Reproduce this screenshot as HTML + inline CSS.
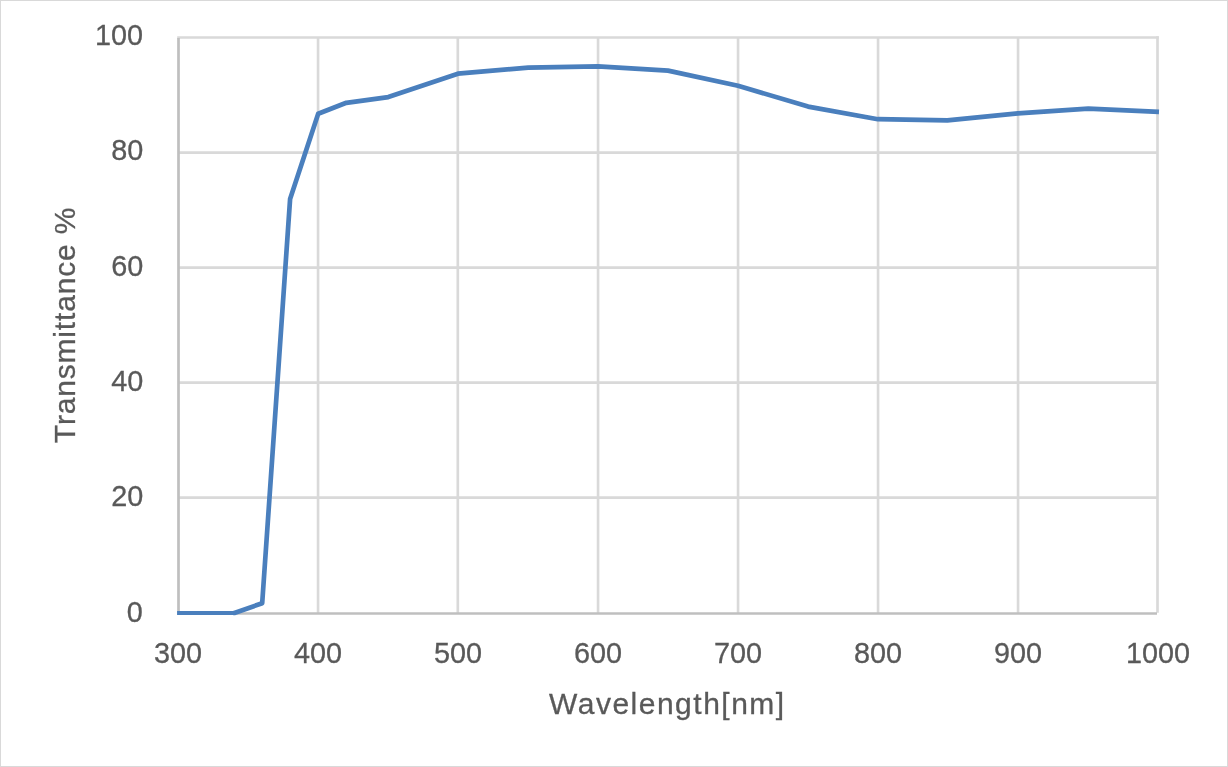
<!DOCTYPE html>
<html><head><meta charset="utf-8">
<style>
html,body{margin:0;padding:0;background:#fff;}
#wrap{position:absolute;left:0;top:0;width:1228px;height:767px;filter:grayscale(100%);}
body{width:1228px;height:767px;position:relative;overflow:hidden;font-family:"Liberation Sans",sans-serif;color:#595959;}
svg{position:absolute;left:0;top:0;}
.t{position:absolute;white-space:nowrap;line-height:1;font-size:30px;-webkit-text-stroke:0.3px #595959;}
.yl{right:1085px;text-align:right;transform:scaleX(0.961);transform-origin:100% 50%;}
.xl{width:100px;text-align:center;transform:scaleX(0.961);transform-origin:50% 50%;}
</style></head><body>
<svg width="1228" height="767" viewBox="0 0 1228 767">
<rect x="0.5" y="0.5" width="1227" height="766" fill="#fff" stroke="#d9d9d9" stroke-width="1"/>
<g stroke="#d9d9d9" stroke-width="2.65" fill="none">
<line x1="177.2" y1="37.5" x2="1158.8" y2="37.5"/>
<line x1="178.5" y1="152.6" x2="1157.5" y2="152.6"/>
<line x1="178.5" y1="267.6" x2="1157.5" y2="267.6"/>
<line x1="178.5" y1="382.6" x2="1157.5" y2="382.6"/>
<line x1="178.5" y1="497.6" x2="1157.5" y2="497.6"/>
<line x1="318.05" y1="37.5" x2="318.05" y2="613.5"/>
<line x1="457.8" y1="37.5" x2="457.8" y2="613.5"/>
<line x1="598.05" y1="37.5" x2="598.05" y2="613.5"/>
<line x1="738.05" y1="37.5" x2="738.05" y2="613.5"/>
<line x1="878.05" y1="37.5" x2="878.05" y2="613.5"/>
<line x1="1018.05" y1="37.5" x2="1018.05" y2="613.5"/>
<line x1="1157.5" y1="36.2" x2="1157.5" y2="612.8"/>
</g>
<g stroke="#bfbfbf" stroke-width="2.7" fill="none">
<line x1="178.5" y1="37.9" x2="178.5" y2="614.8"/>
<line x1="177.2" y1="613.5" x2="1157.0" y2="613.5"/>
</g>
<polyline fill="none" stroke="#4a7fbd" stroke-width="4.1" stroke-linecap="butt" points="177.1,613.0 235,613.0"/>
<polyline fill="none" stroke="#4a7fbd" stroke-width="4.7" stroke-linejoin="round" stroke-linecap="butt" points="233.2,613.0 234.4,613.0 262.2,603.2 290.1,199.0 318.2,113.8 346.3,102.8 388.3,97.1 457.9,73.7 528.2,67.6 598.0,66.4 668.0,70.6 738.0,85.7 808.1,106.6 877.9,119.2 947.3,120.4 1017.9,113.4 1088.3,108.7 1159.0,111.9"/>
</svg>
<div id="wrap">
<div class="t yl" style="top:19.7px">100</div>
<div class="t yl" style="top:134.6px">80</div>
<div class="t yl" style="top:250.5px">60</div>
<div class="t yl" style="top:365.5px">40</div>
<div class="t yl" style="top:480.5px">20</div>
<div class="t yl" style="top:596.5px">0</div>
<div class="t xl" style="left:128px;top:637.6px">300</div>
<div class="t xl" style="left:268px;top:637.6px">400</div>
<div class="t xl" style="left:408px;top:637.6px">500</div>
<div class="t xl" style="left:548px;top:637.6px">600</div>
<div class="t xl" style="left:688px;top:637.6px">700</div>
<div class="t xl" style="left:828px;top:637.6px">800</div>
<div class="t xl" style="left:968px;top:637.6px">900</div>
<div class="t xl" style="left:1107.8px;top:637.6px">1000</div>
<div class="t" id="xt" style="left:549px;top:688.7px;letter-spacing:1.5px;">Wavelength[nm]</div>
<div class="t" id="yt" style="left:65px;top:325px;transform:translate(-50%,-50%) rotate(-90deg);letter-spacing:0.82px;">Transmittance %</div>
</div>
</body></html>
